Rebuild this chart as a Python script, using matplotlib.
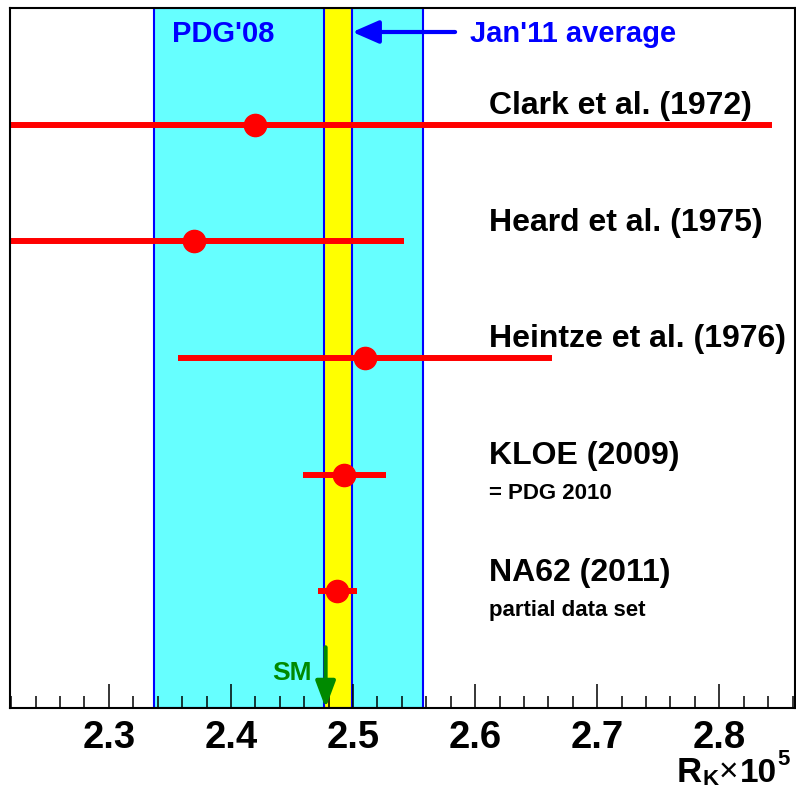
import matplotlib
matplotlib.use('Agg')
import matplotlib.pyplot as plt
from matplotlib.ticker import MultipleLocator

plt.rcParams['font.family'] = ['Liberation Sans', 'DejaVu Sans']

# measurements of R_K x 10^5
names = ['Clark et al. (1972)', 'Heard et al. (1975)', 'Heintze et al. (1976)',
         'KLOE (2009)', 'NA62 (2011)']
notes = ['', '', '', '= PDG 2010', 'partial data set']
values = [2.42, 2.37, 2.51, 2.493, 2.487]
errors = [0.423, 0.172, 0.153, 0.034, 0.016]
rows = [5, 4, 3, 2, 1]

pdg08 = (2.447, 0.110)
jan11 = (2.488, 0.0115)
sm_value = 2.4775

cyan = '#66ffff'
blue = '#0000ff'
green = '#008a00'
red = '#ff0000'

W, H = 796, 789
fig = plt.figure(figsize=(W / 100, H / 100), dpi=100)
ax = fig.add_axes([0.01256, 0.1027, 0.98614, 0.8872])

# bands
ax.axvspan(pdg08[0] - pdg08[1], pdg08[0] + pdg08[1], facecolor=cyan,
           edgecolor=blue, lw=1.5, zorder=0)
ax.axvspan(jan11[0] - jan11[1], jan11[0] + jan11[1], facecolor='yellow',
           edgecolor=blue, lw=1.5, zorder=1)

# data points
ax.errorbar(values, rows, xerr=errors, fmt='o', color=red, ms=16,
            elinewidth=4.3, capsize=0, zorder=3)

for name, note, r in zip(names, notes, rows):
    ax.text(2.6115, r + 0.16, name, fontsize=23, fontweight='bold',
            va='center', ha='left')
    if note:
        ax.text(2.6115, r - 0.165, note, fontsize=16, fontweight='bold',
                va='center', ha='left')

# PDG'08 and Jan'11 labels
ax.text(2.3516, 5.775, "PDG'08", fontsize=21, fontweight='bold', color=blue,
        va='center', ha='left')
ax.annotate('', xy=(jan11[0] + jan11[1], 5.794), xytext=(2.5836, 5.794),
            arrowprops=dict(arrowstyle='-|>,head_length=0.8,head_width=0.35',
                            color=blue, lw=3, mutation_scale=20,
                            shrinkA=0, shrinkB=0))
ax.text(2.596, 5.78, "Jan'11 average", fontsize=21, fontweight='bold',
        color=blue, va='center', ha='left')

# SM
ax.annotate('', xy=(sm_value, 0), xytext=(sm_value, 0.52),
            arrowprops=dict(arrowstyle='-|>,head_length=0.8,head_width=0.3',
                            color=green, lw=3, mutation_scale=20,
                            shrinkA=0, shrinkB=0), zorder=4)
ax.text(2.45, 0.30, 'SM', fontsize=19, fontweight='bold', color=green,
        va='center', ha='center')

ax.set_xlim(2.219, 2.862)
ax.set_ylim(0, 6)
ax.xaxis.set_major_locator(MultipleLocator(0.1))
ax.xaxis.set_minor_locator(MultipleLocator(0.02))
ax.set_yticks([])
ax.tick_params(axis='x', which='major', direction='in', length=17, width=1.1,
               pad=9, labelsize=27.5)
ax.tick_params(axis='x', which='minor', direction='in', length=8.6, width=1.1)
for lab in ax.get_xticklabels():
    lab.set_fontweight('bold')
for sp in ax.spines.values():
    sp.set_linewidth(1.5)
    sp.set_zorder(5)
ax.set_axisbelow(False)

# axis title R_K x 10^5, built from pieces (pixel positions -> figure fraction)
def ftext(px, base, s, size, weight='bold'):
    fig.text(px / W, 1 - base / H, s, fontsize=size, fontweight=weight,
             ha='left', va='baseline')

ftext(677, 782, 'R', 25)
ftext(702, 785, 'K', 16)
ftext(719, 781, '\u00d7', 24, 'normal')
ftext(740, 782, '10', 24)
ftext(777, 765, '5', 16)

fig.savefig('out.png', dpi=100)
